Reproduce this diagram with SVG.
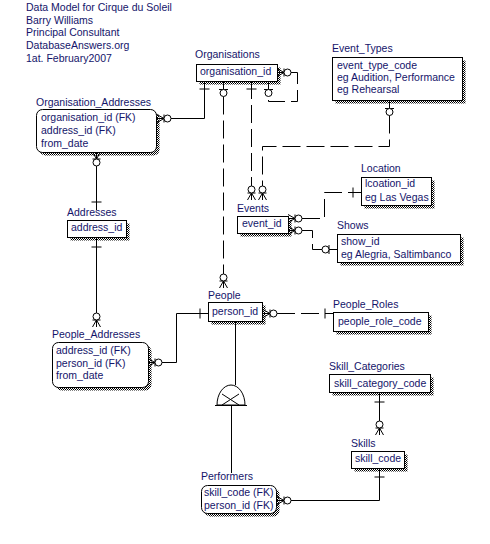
<svg xmlns="http://www.w3.org/2000/svg" xmlns:xlink="http://www.w3.org/1999/xlink" width="490" height="544" viewBox="0 0 490 544">
<style>
.t{font-family:"Liberation Sans",Arial,sans-serif;font-size:10.5px;fill:#14146a}
.box{fill:#fff;stroke:#000;stroke-width:1}
.sh{fill:url(#hatch)}
.rel{fill:none;stroke:#000;stroke-width:1}
.dash{stroke-dasharray:18 6}
.sym{fill:#fff;stroke:#000;stroke-width:1}
</style>
<defs>
<pattern id="hatch" width="2" height="2" patternUnits="userSpaceOnUse">
<rect x="0" y="0" width="1" height="1" fill="#000"/>
<rect x="1" y="1" width="1" height="1" fill="#000"/>
</pattern>
<g id="zm">
<path class="rel" d="M0,-4 L7,0 M0,4 L7,0 M0,0 L7,0 M7,-4 V4"/>
<circle class="sym" cx="10.5" cy="0" r="3.5"/>
</g>
<g id="zo">
<path class="rel" d="M0,0 H8 M8,-4.5 V4.5"/>
<circle class="sym" cx="11.5" cy="0" r="3.5"/>
</g>
<g id="one">
<path class="rel" d="M0,0 H8 M8,-5 V5"/>
</g>
</defs>
<rect width="490" height="544" fill="#fff"/>

<g id="title">
<text class="t" x="26" y="11">Data Model for Cirque du Soleil</text>
<text class="t" x="26" y="23.5">Barry Williams</text>
<text class="t" x="26" y="36">Principal Consultant</text>
<text class="t" x="26" y="49">DatabaseAnswers.org</text>
<text class="t" x="26" y="61.5">1at. February2007</text>
</g>

<g id="connectors">
<path class="rel" d="M204.5,81 V118.5 H171"/>
<path class="rel" d="M96.5,166 V210"/>
<path class="rel" d="M96.5,237 V313"/>
<path class="rel" d="M162,362.5 H176.5 V313.5 H208"/>
<path class="rel" d="M235.5,321 V385"/>
<path class="rel" d="M231.5,405 V473"/>
<path class="rel" d="M379.5,392 V421"/>
<path class="rel" d="M291,500.5 H379.5 V469"/>
<path class="rel dash" d="M223.5,96.5 V274"/>
<path class="rel dash" d="M251.5,81 V186"/>
<path class="rel dash" d="M291,72.5 H297.5 V101.5 H268.5 V96.5"/>
<path class="rel dash" d="M389.5,115.5 V146.5 H262.5 V186"/>
<path class="rel dash" d="M302,218.5 H324.5 V192.5 H361"/>
<path class="rel dash" d="M302,230.5 H312.5 V249.5 H322"/>
<path class="rel dash" d="M277,313.5 H333"/>
<g id="subtype">
<path class="sym" d="M217,405 A14,20 0 0 1 245,405 Z"/>
<path class="rel" d="M215,405.5 H247 M222,394 L239,405 M239,394 L222,405"/>
</g>
<use xlink:href="#zm" transform="translate(277,72.5)"/>
<use xlink:href="#zm" transform="translate(157,118.5)"/>
<use xlink:href="#zm" transform="translate(96.5,152) rotate(90)"/>
<use xlink:href="#zm" transform="translate(251.5,200) rotate(-90)"/>
<use xlink:href="#zm" transform="translate(262.5,200) rotate(-90)"/>
<use xlink:href="#zm" transform="translate(288,218.5)"/>
<use xlink:href="#zm" transform="translate(288,230.5)"/>
<use xlink:href="#zm" transform="translate(223.5,288) rotate(-90)"/>
<use xlink:href="#zm" transform="translate(263,313.5)"/>
<use xlink:href="#zm" transform="translate(96.5,327) rotate(-90)"/>
<use xlink:href="#zm" transform="translate(148,362.5)"/>
<use xlink:href="#zm" transform="translate(277,500.5)"/>
<use xlink:href="#zm" transform="translate(379.5,435) rotate(-90)"/>
<use xlink:href="#zo" transform="translate(223.5,81.5) rotate(90)"/>
<use xlink:href="#zo" transform="translate(268.5,81.5) rotate(90)"/>
<use xlink:href="#zo" transform="translate(389.5,100.5) rotate(90)"/>
<use xlink:href="#zo" transform="translate(337,249.5) rotate(180)"/>
<use xlink:href="#one" transform="translate(204.5,81) rotate(90)"/>
<use xlink:href="#one" transform="translate(251.5,81) rotate(90)"/>
<use xlink:href="#one" transform="translate(96.5,210) rotate(-90)"/>
<use xlink:href="#one" transform="translate(96.5,239) rotate(90)"/>
<use xlink:href="#one" transform="translate(361,192.5) rotate(180)"/>
<use xlink:href="#one" transform="translate(208,313.5) rotate(180)"/>
<use xlink:href="#one" transform="translate(333,313.5) rotate(180)"/>
<use xlink:href="#one" transform="translate(379.5,394) rotate(90)"/>
<use xlink:href="#one" transform="translate(379.5,469) rotate(90)"/>
</g>

<g id="Organisations">
<rect class="sh" x="199.5" y="67.5" width="81" height="17"/>
<rect class="box" x="196.5" y="64.5" width="81" height="17"/>
<text class="t" x="195" y="58">Organisations</text>
<text class="t" x="200" y="74.5">organisation_id</text>
</g>

<g id="Event_Types">
<rect class="sh" x="335.5" y="60.5" width="130" height="43"/>
<rect class="box" x="332.5" y="57.5" width="130" height="43"/>
<text class="t" x="332" y="52">Event_Types</text>
<text class="t" x="337" y="68.5">event_type_code</text>
<text class="t" x="337" y="80.5">eg Audition, Performance</text>
<text class="t" x="337" y="92.5">eg Rehearsal</text>
</g>

<g id="Organisation_Addresses">
<rect class="sh" x="39.5" y="112.5" width="120" height="43" rx="6"/>
<rect class="box" x="36.5" y="109.5" width="120" height="43" rx="6"/>
<text class="t" x="36" y="106">Organisation_Addresses</text>
<text class="t" x="41" y="120.5">organisation_id (FK)</text>
<text class="t" x="41" y="134">address_id (FK)</text>
<text class="t" x="41" y="147">from_date</text>
</g>

<g id="Addresses">
<rect class="sh" x="70.5" y="223.5" width="59" height="17"/>
<rect class="box" x="67.5" y="220.5" width="59" height="17"/>
<text class="t" x="67" y="215.5">Addresses</text>
<text class="t" x="71" y="231">address_id</text>
</g>

<g id="Events">
<rect class="sh" x="240.5" y="219.5" width="51" height="17"/>
<rect class="box" x="237.5" y="216.5" width="51" height="17"/>
<text class="t" x="237" y="212">Events</text>
<text class="t" x="242" y="227">event_id</text>
</g>

<g id="Location">
<rect class="sh" x="364.5" y="180.5" width="70" height="28"/>
<rect class="box" x="361.5" y="177.5" width="70" height="28"/>
<text class="t" x="361" y="172">Location</text>
<text class="t" x="365" y="187">lcoation_id</text>
<text class="t" x="365" y="200.5">eg Las Vegas</text>
</g>

<g id="Shows">
<rect class="sh" x="340.5" y="237.5" width="123" height="28"/>
<rect class="box" x="337.5" y="234.5" width="123" height="28"/>
<text class="t" x="337" y="229">Shows</text>
<text class="t" x="341" y="244.5">show_id</text>
<text class="t" x="341" y="258">eg Alegria, Saltimbanco</text>
</g>

<g id="People">
<rect class="sh" x="211.5" y="305.5" width="54" height="19"/>
<rect class="box" x="208.5" y="302.5" width="54" height="19"/>
<text class="t" x="208" y="299">People</text>
<text class="t" x="212" y="314.5">person_id</text>
</g>

<g id="People_Roles">
<rect class="sh" x="336.5" y="315.5" width="95" height="19"/>
<rect class="box" x="333.5" y="312.5" width="95" height="19"/>
<text class="t" x="333" y="308">People_Roles</text>
<text class="t" x="338" y="324.5">people_role_code</text>
</g>

<g id="People_Addresses">
<rect class="sh" x="55.5" y="345.5" width="96" height="45" rx="6"/>
<rect class="box" x="52.5" y="342.5" width="96" height="45" rx="6"/>
<text class="t" x="52" y="338">People_Addresses</text>
<text class="t" x="56" y="353.5">address_id (FK)</text>
<text class="t" x="56" y="366.5">person_id (FK)</text>
<text class="t" x="56" y="379">from_date</text>
</g>

<g id="Skill_Categories">
<rect class="sh" x="332.5" y="377.5" width="101" height="18"/>
<rect class="box" x="329.5" y="374.5" width="101" height="18"/>
<text class="t" x="329" y="370">Skill_Categories</text>
<text class="t" x="334" y="386.5">skill_category_code</text>
</g>

<g id="Skills">
<rect class="sh" x="354.5" y="454.5" width="53" height="17"/>
<rect class="box" x="351.5" y="451.5" width="53" height="17"/>
<text class="t" x="351" y="447">Skills</text>
<text class="t" x="355" y="462">skill_code</text>
</g>

<g id="Performers">
<rect class="sh" x="204.5" y="488.5" width="75" height="28" rx="6"/>
<rect class="box" x="201.5" y="485.5" width="75" height="28" rx="6"/>
<text class="t" x="201" y="480">Performers</text>
<text class="t" x="204" y="496">skill_code (FK)</text>
<text class="t" x="204" y="508.5">person_id (FK)</text>
</g>
</svg>
